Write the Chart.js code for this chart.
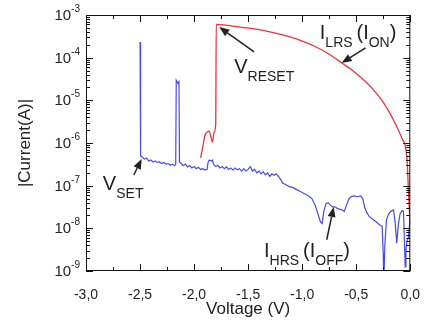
<!DOCTYPE html>
<html>
<head>
<meta charset="utf-8">
<script src="https://cdn.jsdelivr.net/npm/chart.js@4"></script>
<style>
  html, body { margin: 0; padding: 0; background: #fff; }
  canvas { display: block; }
</style>
</head>
<body>
<canvas id="ivChart" width="428" height="327"></canvas>
<script>
// Voltage sweep (V) and |current| (A)
const voltHRS = [
  -2.500, -2.495, -2.48, -2.46, -2.44, -2.42, -2.40, -2.38, -2.36, -2.34, -2.32, -2.30,
  -2.28, -2.26, -2.24, -2.22, -2.20, -2.18, -2.17, -2.165, -2.15, -2.14, -2.135, -2.12,
  -2.10, -2.08, -2.06, -2.04, -2.02, -2.00, -1.98, -1.96, -1.94, -1.92, -1.90, -1.88,
  -1.87, -1.86, -1.84, -1.83, -1.82, -1.80, -1.78, -1.76, -1.74, -1.72, -1.70, -1.68,
  -1.66, -1.64, -1.62, -1.60, -1.58, -1.56, -1.54, -1.52, -1.50, -1.48, -1.46, -1.44,
  -1.42, -1.40, -1.38, -1.36, -1.34, -1.32, -1.30, -1.28, -1.26, -1.24, -1.22, -1.20,
  -1.18, -1.15, -1.12, -1.09, -1.06, -1.03, -1.00, -0.97, -0.94, -0.91, -0.88, -0.85,
  -0.83, -0.815, -0.80, -0.78, -0.76, -0.74, -0.72, -0.70, -0.67, -0.64, -0.61, -0.59,
  -0.57, -0.55, -0.52, -0.49, -0.46, -0.44, -0.42, -0.40, -0.38, -0.35, -0.32, -0.29,
  -0.26, -0.25, -0.245, -0.235, -0.22, -0.20, -0.18, -0.155, -0.14, -0.125, -0.11, -0.094,
  -0.075, -0.063, -0.055, -0.047, -0.04, -0.03, -0.017, -0.008, 0.0
];
const currHRS = [
  2.34e-4, 5.0e-7, 4.7e-7, 4.2e-7, 4.4e-7, 3.8e-7, 4.0e-7, 3.6e-7, 3.8e-7, 3.5e-7, 3.6e-7, 3.3e-7,
  3.5e-7, 3.2e-7, 3.3e-7, 3.0e-7, 3.2e-7, 2.9e-7, 3.2e-7, 2.95e-5, 2.5e-5, 2.75e-5, 3.55e-7, 3.3e-7,
  2.95e-7, 3.2e-7, 2.75e-7, 2.95e-7, 2.6e-7, 2.8e-7, 2.5e-7, 2.7e-7, 2.4e-7, 2.5e-7, 2.35e-7, 2.4e-7,
  3.55e-7, 4.0e-7, 3.8e-7, 4.0e-7, 3.2e-7, 2.8e-7, 3.0e-7, 2.6e-7, 2.8e-7, 2.5e-7, 2.75e-7, 2.4e-7,
  2.6e-7, 2.3e-7, 2.6e-7, 2.35e-7, 2.5e-7, 2.2e-7, 2.5e-7, 2.2e-7, 2.4e-7, 2.8e-7, 2.2e-7, 2.4e-7,
  2.0e-7, 2.2e-7, 1.9e-7, 2.1e-7, 1.8e-7, 2.0e-7, 1.65e-7, 1.9e-7, 1.75e-7, 1.9e-7, 1.65e-7, 1.4e-7,
  1.15e-7, 1.05e-7, 9.5e-8, 9.1e-8, 8.3e-8, 7.6e-8, 6.9e-8, 6.3e-8, 5.75e-8, 5.0e-8, 3.5e-8, 2.0e-8,
  1.4e-8, 1.3e-8, 2.5e-8, 3.8e-8, 4.0e-8, 3.5e-8, 3.2e-8, 3.2e-8, 2.9e-8, 2.75e-8, 2.5e-8, 3.5e-8,
  4.8e-8, 5.5e-8, 5.75e-8, 5.5e-8, 5.75e-8, 5.0e-8, 3.0e-8, 2.3e-8, 1.9e-8, 1.65e-8, 1.45e-8, 1.25e-8,
  1.1e-8, 2.5e-9, 5e-10, 4e-9, 1.6e-8, 2.2e-8, 2.5e-8, 2.7e-8, 1.4e-8, 4.5e-9, 1.25e-8, 2.2e-8,
  2.6e-8, 2.5e-8, 6.3e-9, 1.25e-9, 3.2e-9, 5e-9, 6.3e-9, 1.1e-8, 1.65e-8
];

const voltLRS = [
  -1.94, -1.92, -1.90, -1.88, -1.86, -1.845, -1.83, -1.815, -1.80, -1.795,
  -1.65, -1.49, -1.33, -1.18, -1.03, -0.876, -0.75, -0.63, -0.52, -0.415,
  -0.33, -0.262, -0.20, -0.14, -0.078, -0.032, -0.017, -0.001
];
const currLRS = [
  4.5e-7, 7.9e-7, 1.5e-6, 1.8e-6, 1.9e-6, 1.4e-6, 1.05e-6, 1.8e-6, 2.8e-6, 6.0e-4,
  5.5e-4, 4.9e-4, 4.2e-4, 3.4e-4, 2.6e-4, 1.8e-4, 1.2e-4, 7.4e-5, 4.7e-5, 2.75e-5,
  1.65e-5, 1.0e-5, 5.6e-6, 2.9e-6, 1.3e-6, 4.8e-7, 7.9e-8, 1.1e-8
];

const xTickLabels = ['-3,0', '-2,5', '-2,0', '-1,5', '-1,0', '-0,5', '0,0'];
const yTickExponents = ['-9', '-8', '-7', '-6', '-5', '-4', '-3'];

// Annotation labels: [text, 'n' normal | 's' subscript], anchored in data coords
const notes = [
  { at: [-2.844, 7.9e-8], parts: [['V', 'n'], ['SET', 's']],
    from: [-2.558, 1.78e-7], to: [-2.485, 4.2e-7] },
  { at: [-1.629, 4.4e-5], parts: [['V', 'n'], ['RESET', 's']],
    from: [-1.445, 1.36e-4], to: [-1.767, 5.2e-4] },
  { at: [-0.837, 2.74e-4], parts: [['I', 'n'], ['LRS', 's'], [' ', 's'], ['(I', 'n'], ['ON', 's'], [')', 'n']],
    from: [-0.414, 1.69e-4], to: [-0.635, 7.5e-5] },
  { at: [-1.353, 2.14e-9], parts: [['I', 'n'], ['HRS', 's'], [' ', 's'], ['(I', 'n'], ['OFF', 's'], [')', 'n']],
    from: [-0.773, 5.4e-9], to: [-0.709, 3.16e-8] }
];

const FONT = '"Liberation Sans", Arial, sans-serif';

function toPoints(xs, ys) {
  return xs.map((v, i) => ({ x: v, y: ys[i] }));
}

function drawArrow(ctx, x1, y1, x2, y2) {
  const ang = Math.atan2(y2 - y1, x2 - x1);
  const len = 10, half = 4;
  const bx = x2 - len * Math.cos(ang), by = y2 - len * Math.sin(ang);
  ctx.beginPath();
  ctx.moveTo(x1, y1);
  ctx.lineTo(bx, by);
  ctx.stroke();
  ctx.beginPath();
  ctx.moveTo(x2, y2);
  ctx.lineTo(bx + half * Math.sin(ang), by - half * Math.cos(ang));
  ctx.lineTo(bx - half * Math.sin(ang), by + half * Math.cos(ang));
  ctx.closePath();
  ctx.fill();
}

// frame, inward ticks, decade labels and annotations
const framePlugin = {
  id: 'frame',
  afterDraw(chart) {
    const { ctx, chartArea: a, scales: { x, y } } = chart;
    ctx.save();
    ctx.strokeStyle = '#111';
    ctx.fillStyle = '#111';
    ctx.lineWidth = 1;
    ctx.strokeRect(a.left + 0.5, a.top + 0.5, a.right - a.left - 1, a.bottom - a.top - 1);

    ctx.beginPath();
    x.ticks.forEach(t => {
      const px = Math.round(x.getPixelForValue(t.value)) + 0.5;
      const len = t.label ? 7 : 4;
      ctx.moveTo(px, a.bottom); ctx.lineTo(px, a.bottom - len);
      ctx.moveTo(px, a.top); ctx.lineTo(px, a.top + len);
    });
    // decade ticks plus 2..9 minor ticks
    yTickExponents.forEach(ex => {
      const base = Math.pow(10, Number(ex));
      for (let m = 1; m <= 9; m++) {
        const v = base * m;
        if (v > 1.0001e-3) break;
        const py = Math.round(y.getPixelForValue(v)) + 0.5;
        const len = m === 1 ? 7 : 4;
        ctx.moveTo(a.left, py); ctx.lineTo(a.left + len, py);
        ctx.moveTo(a.right, py); ctx.lineTo(a.right - len, py);
      }
    });
    ctx.stroke();

    // y decade labels: 10 with raised exponent
    ctx.fillStyle = '#222';
    yTickExponents.forEach(ex => {
      const py = y.getPixelForValue(Math.pow(10, Number(ex)));
      ctx.font = '10px ' + FONT;
      const ew = ctx.measureText(ex).width;
      ctx.textAlign = 'left';
      ctx.textBaseline = 'alphabetic';
      ctx.fillText(ex, a.left - 6 - ew, py - 3);
      ctx.font = '15px ' + FONT;
      ctx.textAlign = 'right';
      ctx.textBaseline = 'middle';
      ctx.fillText('10', a.left - 6 - ew, py + 1);
    });

    // annotations
    ctx.textAlign = 'left';
    ctx.textBaseline = 'alphabetic';
    ctx.lineWidth = 1.5;
    ctx.strokeStyle = '#222';
    notes.forEach(n => {
      let cx = x.getPixelForValue(n.at[0]);
      const by = y.getPixelForValue(n.at[1]);
      n.parts.forEach(([txt, kind]) => {
        ctx.font = (kind === 'n' ? '20px ' : '14px ') + FONT;
        ctx.fillText(txt, cx, kind === 'n' ? by : by + 8);
        cx += ctx.measureText(txt).width;
      });
      drawArrow(ctx,
        x.getPixelForValue(n.from[0]), y.getPixelForValue(n.from[1]),
        x.getPixelForValue(n.to[0]), y.getPixelForValue(n.to[1]));
    });
    ctx.restore();
  }
};

const chart = new Chart(document.getElementById('ivChart'), {
  type: 'line',
  data: {
    datasets: [
      {
        label: 'LRS',
        data: toPoints(voltLRS, currLRS),
        borderColor: '#e8343c',
        borderWidth: 1.3,
        pointRadius: 0,
        cubicInterpolationMode: 'monotone'
      },
      {
        label: 'HRS',
        data: toPoints(voltHRS, currHRS),
        borderColor: '#4b4be2',
        borderWidth: 1.2,
        pointRadius: 0,
        tension: 0
      }
    ]
  },
  options: {
    responsive: false,
    animation: false,
    devicePixelRatio: 1,
    layout: { padding: { top: 15, right: 16, left: 0, bottom: 0 } },
    plugins: {
      legend: { display: false },
      tooltip: { enabled: false }
    },
    scales: {
      x: {
        type: 'linear',
        min: -3,
        max: 0,
        grid: { display: false },
        border: { display: false },
        ticks: {
          stepSize: 0.25,
          autoSkip: false,
          maxRotation: 0,
          padding: 8,
          color: '#222',
          font: { family: FONT, size: 14 },
          callback: function (value) {
            const k = (value + 3) * 2;
            if (Math.abs(k - Math.round(k)) > 1e-6) return '';
            return xTickLabels[Math.round(k)];
          }
        },
        title: {
          display: true,
          text: 'Voltage (V)',
          color: '#222',
          font: { family: FONT, size: 17 },
          padding: { top: 0, bottom: 7 }
        },
        afterFit: function (scale) { scale.height = 56; }
      },
      y: {
        type: 'logarithmic',
        min: 1e-9,
        max: 1e-3,
        grid: { display: false },
        border: { display: false },
        ticks: { display: false, autoSkip: false },
        title: {
          display: true,
          text: '|Current(A)|',
          color: '#222',
          font: { family: FONT, size: 17 },
          padding: { top: 15, bottom: 0 }
        },
        afterFit: function (scale) { scale.width = 86; }
      }
    }
  },
  plugins: [framePlugin]
});
</script>
</body>
</html>
